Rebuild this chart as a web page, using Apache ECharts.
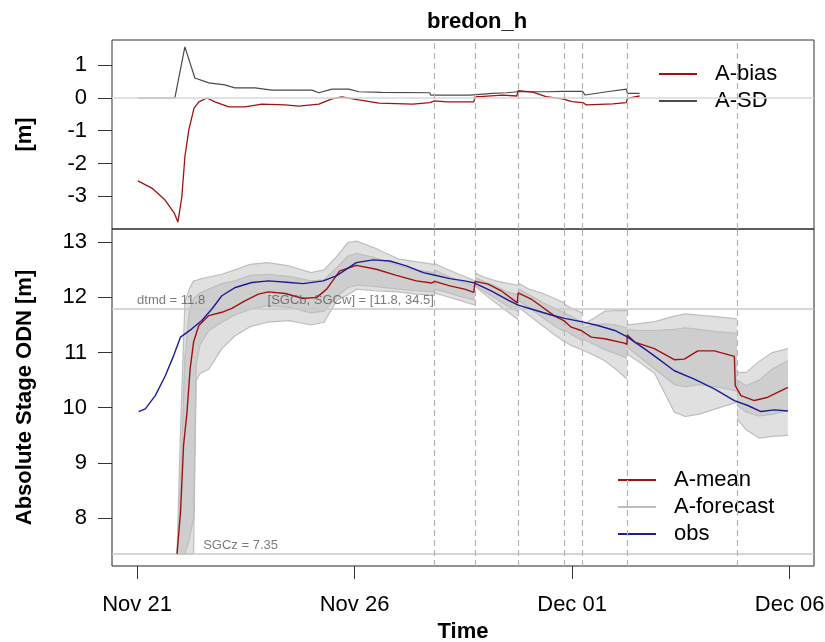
<!DOCTYPE html>
<html><head><meta charset="utf-8">
<script src="https://cdn.jsdelivr.net/npm/echarts@6/dist/echarts.min.js"></script>
<style>html,body{margin:0;padding:0;background:#fff}#c{width:825px;height:642px}</style>
</head><body><div id="c"></div>
<script>
// ---- data (time in days after Nov 21 00:00) ----
const xTicks = [0, 5, 10, 15];
const xTickLabels = ['Nov 21', 'Nov 26', 'Dec 01', 'Dec 06'];
const yTicksTop = [-3, -2, -1, 0, 1];
const yTicksLow = [8, 9, 10, 11, 12, 13];
const issueTimes = [6.83, 7.77, 8.76, 9.82, 10.23, 11.26, 13.79];

const sdT = [0.02,0.87,1.1,1.33,1.65,2.02,2.25,2.71,3.1,4.02,4.18,4.48,4.87,5.1,5.63,6.73,6.75,7.65,7.67,8.17,8.5,8.75,9.4,9.78,10.24,10.3,10.8,11.25,11.27,11.55];
const sdV = [0,0,1.56,0.61,0.46,0.40,0.31,0.31,0.24,0.24,0.16,0.27,0.27,0.19,0.17,0.16,0.09,0.09,0.12,0.14,0.16,0.19,0.19,0.2,0.2,0.09,0.19,0.27,0.14,0.14];

const biasT = [0.02,0.34,0.64,0.85,0.94,1.03,1.10,1.19,1.31,1.42,1.61,1.79,2.11,2.48,2.87,3.40,3.72,4.18,4.48,4.71,5.10,5.56,6.34,6.73,6.84,7.12,7.74,7.77,7.88,8.40,8.73,8.76,9.10,9.40,9.78,10.0,10.24,10.33,10.93,11.25,11.27,11.55];
const biasV = [-2.53,-2.75,-3.11,-3.5,-3.79,-3.02,-1.8,-0.98,-0.31,-0.12,0,-0.12,-0.27,-0.27,-0.19,-0.21,-0.25,-0.19,-0.03,0.03,-0.06,-0.16,-0.19,-0.14,-0.09,-0.12,-0.12,0.04,0.04,0.09,0.06,0.22,0.18,0.04,-0.03,-0.11,-0.14,-0.21,-0.18,-0.14,-0.01,0.06];

const obsT = [0.04,0.19,0.42,0.65,0.84,1.0,1.26,1.49,1.72,1.95,2.26,2.64,3.02,3.51,3.82,4.28,4.58,5.04,5.43,5.81,6.19,6.58,6.80,7.19,7.53,7.76,8.14,8.53,8.76,9.06,9.52,9.83,10.21,10.59,10.98,11.28,11.44,11.66,11.89,12.35,12.81,13.27,13.73,14.04,14.34,14.65,14.96];
const obsV = [9.93,9.98,10.22,10.58,10.94,11.28,11.43,11.58,11.79,12.03,12.18,12.27,12.30,12.27,12.25,12.30,12.39,12.63,12.68,12.66,12.57,12.45,12.41,12.34,12.30,12.26,12.12,11.95,11.86,11.79,11.68,11.62,11.56,11.49,11.40,11.28,11.19,11.07,10.94,10.67,10.52,10.34,10.13,10.04,9.93,9.96,9.94];

const meanT = [0.92,1.0,1.07,1.15,1.22,1.30,1.42,1.65,1.95,2.18,2.49,2.79,3.02,3.41,3.82,4.13,4.36,4.66,5.04,5.50,5.96,6.42,6.77,6.84,7.19,7.53,7.74,7.77,8.07,8.37,8.74,8.76,9.06,9.29,9.60,9.81,9.98,10.21,10.44,10.75,11.20,11.26,11.27,11.44,11.89,12.35,12.58,12.89,13.27,13.73,13.75,13.88,14.19,14.50,14.96];
const meanV = [7.35,8.11,9.32,9.93,10.70,11.19,11.49,11.67,11.73,11.80,11.94,12.06,12.10,12.07,11.98,12.0,12.15,12.48,12.58,12.51,12.40,12.30,12.26,12.29,12.21,12.15,12.09,12.29,12.24,12.12,11.90,12.08,11.97,11.84,11.66,11.58,11.46,11.40,11.28,11.25,11.17,11.15,11.32,11.19,11.07,10.87,10.88,11.03,11.03,10.93,10.40,10.22,10.13,10.19,10.37];

// ensemble forecast members, one sub-array per forecast issue
const ensTime = [
  [0.92,1.0,1.1,1.2,1.3,1.36,1.45,1.65,1.95,2.25,2.6,3.0,3.5,4.0,4.3,4.6,4.85,5.05,5.45,6.0,6.4,6.83],
  [6.83,7.1,7.4,7.77],
  [7.77,8.0,8.25,8.5,8.76],
  [8.76,9.0,9.3,9.6,9.82],
  [9.82,10.0,10.23],
  [10.23,10.5,10.75,11.0,11.26],
  [11.26,11.5,11.9,12.35,12.6,12.9,13.3,13.79],
  [13.79,14.0,14.3,14.6,14.96]
];
const ensTop = [
  [7.35,9.6,11.9,12.15,12.3,12.31,12.33,12.37,12.42,12.5,12.6,12.63,12.57,12.45,12.5,12.75,13.0,13.02,12.9,12.7,12.65,12.6],
  [12.62,12.52,12.42,12.3],
  [12.44,12.36,12.3,12.26,12.22],
  [12.26,12.15,12.08,11.98,11.9],
  [11.88,11.8,11.72],
  [11.5,11.62,11.75,11.76,11.76],
  [11.5,11.52,11.56,11.66,11.7,11.68,11.65,11.61],
  [10.64,10.64,10.84,11.0,11.07]
];
const ensHi = [
  [7.35,8.6,10.9,11.75,11.98,12.02,12.08,12.15,12.25,12.3,12.4,12.42,12.38,12.3,12.32,12.55,12.75,12.8,12.72,12.58,12.5,12.45],
  [12.5,12.4,12.3,12.2],
  [12.36,12.28,12.2,12.1,12.05],
  [12.16,12.05,11.92,11.8,11.72],
  [11.72,11.65,11.55],
  [11.45,11.5,11.52,11.5,11.45],
  [11.42,11.4,11.4,11.42,11.45,11.42,11.38,11.35],
  [10.5,10.4,10.5,10.7,10.85]
];
const ensLo = [
  [7.35,7.35,7.35,7.6,8.0,10.8,11.15,11.4,11.55,11.68,11.78,11.85,11.82,11.72,11.75,12.02,12.18,12.22,12.2,12.15,12.12,12.1],
  [12.15,12.1,12.02,11.95],
  [12.22,12.1,11.98,11.85,11.75],
  [11.95,11.82,11.65,11.48,11.38],
  [11.42,11.32,11.22],
  [11.25,11.15,11.05,10.98,10.9],
  [11.1,10.95,10.7,10.42,10.38,10.42,10.38,10.3],
  [10.05,9.92,9.85,9.88,9.95]
];
const ensBot = [
  [7.35,7.35,7.35,7.35,7.35,10.5,10.62,10.7,11.07,11.3,11.47,11.55,11.58,11.5,11.55,11.95,12.05,12.15,12.12,12.1,12.06,12.04],
  [12.08,12.02,11.95,11.86],
  [12.2,12.05,11.9,11.75,11.6],
  [11.83,11.68,11.5,11.32,11.2],
  [11.2,11.12,11.05],
  [11.05,10.95,10.85,10.7,10.52],
  [10.98,10.85,10.62,9.92,9.84,9.88,9.98,10.1],
  [9.8,9.6,9.45,9.48,9.5]
];

const refLevels = [11.8, 7.35];
const annT = [0.0, 3.0, 1.52];
const annV = [11.8, 11.8, 7.35];
const annText = ['dtmd = 11.8', '[SGCb, SGCw] = [11.8, 34.5]', 'SGCz = 7.35'];

// ---- chart ----
const FONT = "'Liberation Sans', Arial, Helvetica, sans-serif";
const zip = (a, b) => a.map((v, i) => [v, b[i]]);
const RED = '#a01212', BLUE = '#1c1c96', SDC = '#4a4a4a', GREY = '#bebebe';

function bandSeries(upper, lower, fill, z) {
  return {
    name: 'band', type: 'custom', xAxisIndex: 1, yAxisIndex: 1, z: z, silent: true,
    data: ensTime.map((t, k) => [t[0], upper[k][0], k]),
    encode: {x: 0, y: 1},
    renderItem: function (params, api) {
      const k = api.value(2);
      const t = ensTime[k], hi = upper[k], lo = lower[k];
      const pts = [];
      for (let i = 0; i < t.length; i++) pts.push(api.coord([t[i], hi[i]]));
      for (let i = t.length - 1; i >= 0; i--) pts.push(api.coord([t[i], lo[i]]));
      return {type: 'polygon', shape: {points: pts}, style: {fill: fill, stroke: null}};
    }
  };
}

const series = [];
// upper panel
series.push({
  name: 'A-SD', type: 'line', xAxisIndex: 0, yAxisIndex: 0, data: zip(sdT, sdV),
  showSymbol: false, lineStyle: {color: SDC, width: 1.2}, itemStyle: {color: SDC}, z: 3,
  markLine: {silent: true, symbol: 'none', label: {show: false}, animation: false,
    data: [{yAxis: 0, lineStyle: {color: '#d8d8d8', width: 1.5, type: 'solid'}}]
      .concat(issueTimes.map(t => ({xAxis: t, lineStyle: {color: '#b4b4b4', width: 1.2, type: [6, 4]}})))}
});
series.push({
  name: 'A-bias', type: 'line', xAxisIndex: 0, yAxisIndex: 0, data: zip(biasT, biasV),
  showSymbol: false, lineStyle: {color: RED, width: 1.3}, itemStyle: {color: RED}, z: 4
});
// lower panel: reference lines + dashed issue lines
series.push({
  name: 'ref', type: 'line', xAxisIndex: 1, yAxisIndex: 1, data: zip(annT, annV), showSymbol: false,
  lineStyle: {opacity: 0}, z: 1,
  markLine: {silent: true, symbol: 'none', label: {show: false}, animation: false,
    data: refLevels.map(v => ({yAxis: v, lineStyle: {color: '#c8c8c8', width: 1.5, type: 'solid'}}))
      .concat(issueTimes.map(t => ({xAxis: t, lineStyle: {color: '#b4b4b4', width: 1.2, type: [6, 4]}})))}
});
// ensemble spread: outer envelope and denser core
series.push(bandSeries(ensTop, ensBot, '#e0e0e0', 2));
series.push(bandSeries(ensHi, ensLo, '#cecece', 2));
[ensTop, ensHi, ensLo, ensBot].forEach(mem => {
  ensTime.forEach((t, k) => {
    series.push({
      name: 'A-forecast', type: 'line', xAxisIndex: 1, yAxisIndex: 1, data: zip(t, mem[k]),
      showSymbol: false, lineStyle: {color: GREY, width: 1.2}, itemStyle: {color: GREY}, z: 3, silent: true
    });
  });
});
series.push({
  name: 'A-mean', type: 'line', xAxisIndex: 1, yAxisIndex: 1, data: zip(meanT, meanV),
  showSymbol: false, lineStyle: {color: RED, width: 1.4}, itemStyle: {color: RED}, z: 5
});
series.push({
  name: 'obs', type: 'line', xAxisIndex: 1, yAxisIndex: 1, data: zip(obsT, obsV),
  showSymbol: false, lineStyle: {color: BLUE, width: 1.4}, itemStyle: {color: BLUE}, z: 6
});
series.push({
  name: 'ann', type: 'scatter', xAxisIndex: 1, yAxisIndex: 1, data: zip(annT, annV),
  symbolSize: 0.1, itemStyle: {color: 'rgba(0,0,0,0)'}, z: 7, silent: true,
  label: {show: true, position: 'right', distance: 0, offset: [0, -8],
    formatter: p => annText[p.dataIndex], color: '#5a5a5a', fontSize: 13, fontFamily: FONT}
});

const axisLbl = {fontSize: 22, color: '#000', fontFamily: FONT};
const nameStyle = {fontSize: 22, fontWeight: 'bold', color: '#000', fontFamily: FONT};
const legendCommon = {
  orient: 'vertical', icon: 'rect', itemWidth: 38, itemHeight: 2, itemGap: 5,
  backgroundColor: '#fff', selectedMode: false,
  textStyle: {fontSize: 22, lineHeight: 20, color: '#000', fontFamily: FONT, padding: [0, 0, 0, 13]}
};

const option = {
  animation: false,
  backgroundColor: '#fff',
  title: {text: 'bredon_h', left: 422, top: 6, textStyle: nameStyle},
  legend: [
    Object.assign({data: ['A-bias', 'A-SD'], left: 640, top: 45, padding: [18, 12, 16, 19]}, legendCommon),
    Object.assign({data: ['A-mean', 'A-forecast', 'obs'], left: 598, top: 452, padding: [17, 12, 18, 20]}, legendCommon)
  ],
  grid: [
    {left: 112, right: 11, top: 40, height: 189, outerBoundsMode: 'none', containLabel: false,
      show: true, borderColor: '#333', borderWidth: 1, backgroundColor: 'transparent'},
    {left: 112, right: 11, top: 229, height: 337, outerBoundsMode: 'none', containLabel: false,
      show: true, borderColor: '#222', borderWidth: 1, backgroundColor: 'transparent'}
  ],
  xAxis: [
    {type: 'value', gridIndex: 0, min: -0.575, max: 15.56, axisLine: {show: false, onZero: false}, axisTick: {show: false},
      axisLabel: {show: false}, splitLine: {show: false}},
    {type: 'value', gridIndex: 1, min: -0.575, max: 15.56, axisLine: {show: false, onZero: false},
      axisTick: {show: true, customValues: xTicks, length: 13, lineStyle: {color: '#333'}},
      axisLabel: Object.assign({customValues: xTicks, margin: 28,
        formatter: v => xTickLabels[xTicks.indexOf(v)]}, axisLbl),
      splitLine: {show: false},
      name: 'Time', nameLocation: 'middle', nameGap: 46, nameTextStyle: nameStyle}
  ],
  yAxis: [
    {type: 'value', gridIndex: 0, min: -4.0, max: 1.77, axisLine: {show: false, onZero: false},
      axisTick: {show: true, customValues: yTicksTop, length: 14, lineStyle: {color: '#333'}},
      axisLabel: Object.assign({customValues: yTicksTop, margin: 25}, axisLbl),
      splitLine: {show: false},
      name: '[m]', nameLocation: 'middle', nameGap: 76, nameTextStyle: nameStyle},
    {type: 'value', gridIndex: 1, min: 7.13, max: 13.24, axisLine: {show: false, onZero: false},
      axisTick: {show: true, customValues: yTicksLow, length: 14, lineStyle: {color: '#333'}},
      axisLabel: Object.assign({customValues: yTicksLow, margin: 25}, axisLbl),
      splitLine: {show: false},
      name: 'Absolute Stage ODN [m]', nameLocation: 'middle', nameGap: 76, nameTextStyle: nameStyle}
  ],
  series: series
};

const chart = echarts.init(document.getElementById('c'), null, {renderer: 'canvas'});
chart.setOption(option);
</script></body></html>
